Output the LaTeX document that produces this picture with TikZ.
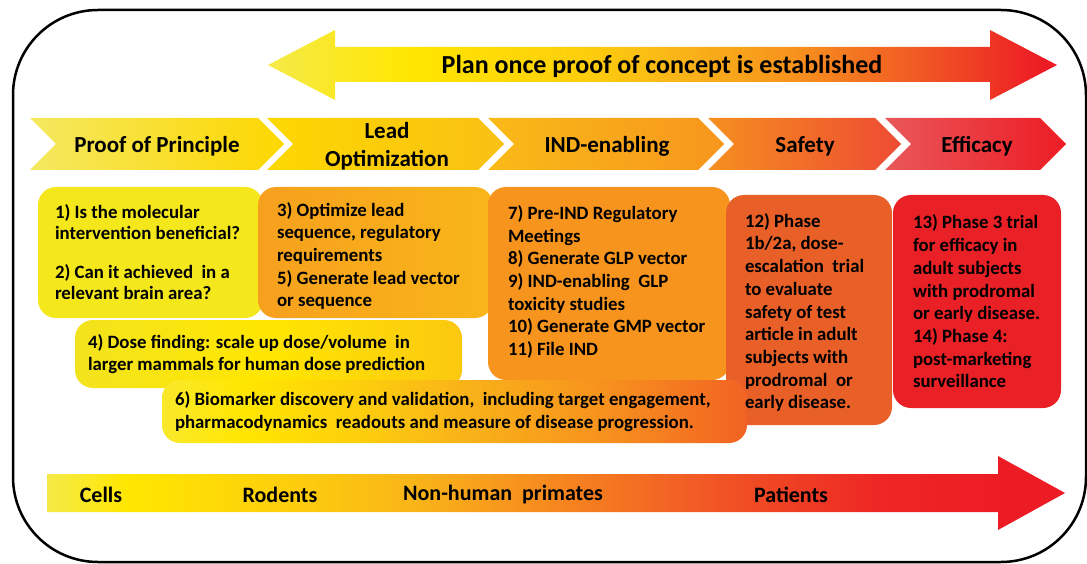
\documentclass[tikz,border=0pt]{standalone}
\usepackage{fontspec}
\setmainfont{Carlito}
\usepackage{tikz}
\usetikzlibrary{shapes,arrows,positioning,calc}

% warm palette, yellow -> red
\definecolor{ypale}{HTML}{F5EA48}
\definecolor{ybright}{HTML}{FFE600}
\definecolor{ygold}{HTML}{FDCE0C}
\definecolor{amber}{HTML}{F9B518}
\definecolor{orng}{HTML}{F7941D}
\definecolor{dorng}{HTML}{F15A24}
\definecolor{rouge}{HTML}{ED1C24}

\pgfdeclarehorizontalshading{planshade}{100bp}{color(0bp)=(ypale); color(25bp)=(ypale);
  color(34bp)=(ybright); color(45bp)=(ygold); color(51bp)=(amber); color(58bp)=(orng);
  color(66bp)=(dorng); color(74bp)=(rouge); color(100bp)=(rouge)}
\pgfdeclarehorizontalshading{hostshade}{100bp}{color(0bp)=(ypale); color(25bp)=(ypale);
  color(29bp)=(ybright); color(37bp)=(ygold); color(43bp)=(amber); color(48bp)=(orng);
  color(57bp)=(dorng); color(66bp)=(rouge!85!dorng); color(72bp)=(rouge); color(100bp)=(rouge)}
\pgfdeclarehorizontalshading{bioshade}{100bp}{color(0bp)=(ypale); color(25bp)=(ypale!60!ybright);
  color(32bp)=(ybright); color(42bp)=(ygold); color(50bp)=(amber); color(62bp)=(orng);
  color(75bp)=(dorng!85!orng); color(100bp)=(dorng)}

\begin{document}
\begin{tikzpicture}[x=1pt,y=-1pt,
    stagebox/.style={rounded corners=18pt, inner sep=0pt},
    stagetext/.style={font=\bfseries\fontsize{18.8}{22.7}\selectfont, align=left, inner sep=0pt, anchor=west},
    chevlabel/.style={font=\bfseries\fontsize{23}{28}\selectfont, align=center, inner sep=0pt},
    hostlabel/.style={font=\bfseries\fontsize{22}{26}\selectfont, inner sep=0pt}]
    \useasboundingbox (0,0) rectangle (1087,564);

    % outer frame
    \draw[line width=2.5pt, rounded corners=85pt] (13,10) rectangle (1086,562);

    % two-headed arrow on top
    \shade[shading=planshade] (268,65) -- (335,30) -- (335,47) -- (990,47) -- (990,30) -- (1057,65)
        -- (990,100) -- (990,82) -- (335,82) -- (335,100) -- cycle;
    \node[font=\bfseries\fontsize{26}{30}\selectfont] (plan) at (662,66.5) {Plan once proof of concept is established};

    % stage chevrons
    \foreach \xl/\xr/\lc/\rc in {30/258/F4E860/FDD700, 267/478/FDD800/F9C014, 488/698/F9BA17/F7961D,
                                 708/875/F58F1F/EE4B33, 885/1040/E9575A/ED1C24} {
        \definecolor{chl}{HTML}{\lc}
        \definecolor{chr}{HTML}{\rc}
        \shade[left color=chl, right color=chr] (\xl,118) -- (\xr,118) -- ++(26,26) -- (\xr,170)
            -- (\xl,170) -- ++(26,-26) -- cycle;
    }
    \node[chevlabel] (pop) at (157,146) {Proof of Principle};
    \node[chevlabel] (leadopt) at (387,146) {Lead\\Optimization};
    \node[chevlabel] (indenab) at (607,146) {IND-enabling};
    \node[chevlabel] (safety) at (805,146) {Safety};
    \node[chevlabel] (efficacy) at (977,146) {Efficacy};

    % task boxes
    \node[stagebox, fill={rgb,255:red,244;green,231;blue,28}, minimum width=225, minimum height=131] (b1) at (150.5,252.5) {};
    \node[stagebox, left color={rgb,255:red,247;green,160;blue,30}, right color={rgb,255:red,249;green,182;blue,25},
        minimum width=235, minimum height=131] (b2) at (375.5,252.5) {};
    \node[stagebox, fill={rgb,255:red,247;green,148;blue,29}, minimum width=242, minimum height=193] (b3) at (609,283.5) {};
    \node[stagebox, left color={rgb,255:red,243;green,227;blue,30}, right color={rgb,255:red,251;green,200;blue,16},
        middle color=ybright, minimum width=387, minimum height=68] (dose) at (268.5,354) {};
    \node[stagebox, fill={rgb,255:red,232;green,96;blue,40}, minimum width=166, minimum height=230] (b4) at (809,310) {};
    \node[stagebox, fill={rgb,255:red,233;green,33;blue,39}, minimum width=168, minimum height=213] (b5) at (977,301.5) {};
    \node[stagebox, shade, shading=bioshade, minimum width=585, minimum height=63] (b6) at (454.5,411.5) {};

    % box texts
    \node[stagetext, font=\bfseries\fontsize{18.8}{21}\selectfont] (t1) at ([xshift=17pt]b1.west)
        {1) Is the molecular\\intervention beneficial?\\[18pt]2) Can it achieved\ \ in a\\relevant brain area?};
    \node[stagetext] (t2) at ([xshift=19pt,yshift=-3.5pt]b2.west)
        {3) Optimize lead\\sequence, regulatory\\requirements\\5) Generate lead vector\\or sequence};
    \node[stagetext] (t3) at ([xshift=20pt,yshift=1.5pt]b3.west)
        {7) Pre-IND Regulatory\\Meetings\\8) Generate GLP vector\\9) IND-enabling\ \ GLP\\toxicity studies\\10) Generate GMP vector\\11) File IND};
    \node[stagetext] (tdose) at ([xshift=13pt,yshift=0pt]dose.west)
        {4) Dose finding: scale up dose/volume\ \ in\\larger mammals for human dose prediction};
    \node[stagetext] (t4) at ([xshift=19pt,yshift=-2.5pt]b4.west)
        {12) Phase\\1b/2a, dose-\\escalation\ \ trial\\to evaluate\\safety of test\\article in adult\\subjects with\\prodromal\ \ or\\early disease.};
    \node[stagetext] (t5) at ([xshift=20pt,yshift=0pt]b5.west)
        {13) Phase 3 trial\\for efficacy in\\adult subjects\\with prodromal\\or early disease.\\14) Phase 4:\\post-marketing\\surveillance};
    \node[stagetext] (t6) at ([xshift=13pt]b6.west)
        {6) Biomarker discovery and validation,\ \ including target engagement,\\pharmacodynamics\ \ readouts and measure of disease progression.};

    % model systems arrow
    \shade[shading=hostshade] (47,474) -- (998,474) -- (998,456) -- (1065,493) -- (998,530) -- (998,512) -- (47,512) -- cycle;
    \node[hostlabel] (cells) at (101,495) {Cells};
    \node[hostlabel] (rodents) at (280,495) {Rodents};
    \node[hostlabel] (nhp) at (503,495) {Non-human\ \ primates};
    \node[hostlabel] (patients) at (791,495) {Patients};
\end{tikzpicture}
\end{document}
